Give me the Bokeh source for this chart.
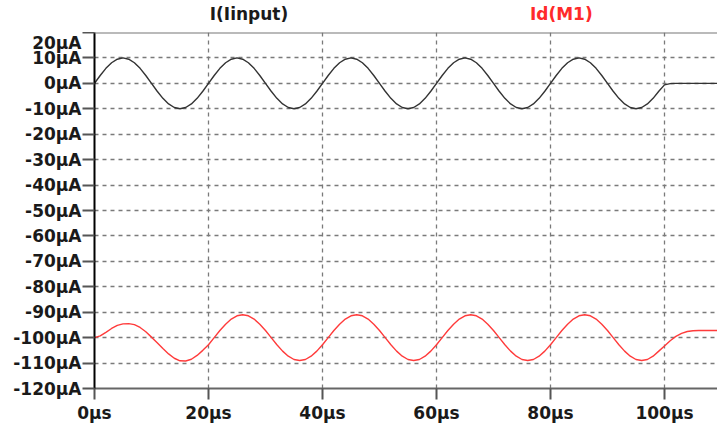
from bokeh.plotting import figure
from bokeh.models import Range1d, FixedTicker, CustomJSTickFormatter, Span
from bokeh.layouts import column
from bokeh.core.properties import value
from bokeh.embed import file_html
from bokeh.resources import INLINE

# time samples in µs
time_us = list(range(0, 111))

# I(Iinput) in µA
i_input = [
    0, 3.1, 5.9, 8.1, 9.5, 10, 9.5, 8.1, 5.9, 3.1, 0, -3.1, -5.9, -8.1, -9.5, -10, -9.5, -8.1, -5.9, -3.1,
    0, 3.1, 5.9, 8.1, 9.5, 10, 9.5, 8.1, 5.9, 3.1, 0, -3.1, -5.9, -8.1, -9.5, -10, -9.5, -8.1, -5.9, -3.1,
    0, 3.1, 5.9, 8.1, 9.5, 10, 9.5, 8.1, 5.9, 3.1, 0, -3.1, -5.9, -8.1, -9.5, -10, -9.5, -8.1, -5.9, -3.1,
    0, 3.1, 5.9, 8.1, 9.5, 10, 9.5, 8.1, 5.9, 3.1, 0, -3.1, -5.9, -8.1, -9.5, -10, -9.5, -8.1, -5.9, -3.1,
    0, 3.1, 5.9, 8.1, 9.5, 10, 9.5, 8.1, 5.9, 3.1, 0, -3.1, -5.9, -8.1, -9.5, -10, -9.5, -8.1, -5.9, -3.1,
    -0.6, -0.1, 0, 0, 0, 0, 0, 0, 0, 0, 0,
]

# Id(M1) in µA
id_m1 = [
    -100, -99.3, -97.9, -96.4, -95.2, -94.6, -94.5, -94.9, -96.0, -97.7,
    -99.8, -102.0, -104.3, -106.4, -108.1, -109.1, -109.2, -108.5, -107.0, -105.0,
    -102.8, -100, -97.2, -94.7, -92.7, -91.4, -91.0, -91.4, -92.7, -94.7,
    -97.2, -100, -102.8, -105.3, -107.3, -108.6, -109.0, -108.6, -107.3, -105.3,
    -102.8, -100, -97.2, -94.7, -92.7, -91.4, -91.0, -91.4, -92.7, -94.7,
    -97.2, -100, -102.8, -105.3, -107.3, -108.6, -109.0, -108.6, -107.3, -105.3,
    -102.8, -100, -97.2, -94.7, -92.7, -91.4, -91.0, -91.4, -92.7, -94.7,
    -97.2, -100, -102.8, -105.3, -107.3, -108.6, -109.0, -108.6, -107.3, -105.3,
    -102.8, -100, -97.2, -94.7, -92.7, -91.4, -91.0, -91.4, -92.7, -94.7,
    -97.2, -100, -102.8, -105.3, -107.3, -108.6, -109.0, -108.6, -107.3, -105.3,
    -103.3, -101.2, -99.5, -98.3, -97.6, -97.3, -97.2, -97.2, -97.2, -97.2, -97.2,
]

x_ticks = [0, 20, 40, 60, 80, 100]
y_ticks = [20, 10, 0, -10, -20, -30, -40, -50, -60, -70, -80, -90, -100, -110, -120]
series_names = ["I(Iinput)", "Id(M1)"]
series_colors = ["#1a1a1a", "#ff2a2a"]
name_pos_us = [27.1, 81.9]

FONT = "DejaVu Sans"
FS = "17px"
X_END = 109.3

# header with trace names
h = figure(width=717, height=32, output_backend="svg", toolbar_location=None,
           x_range=Range1d(0, X_END), y_range=Range1d(0, 32),
           min_border_left=94, min_border_top=0, min_border_bottom=0, min_border_right=0)
h.axis.visible = False
h.grid.visible = False
h.outline_line_color = None
h.text(x=name_pos_us, y=[18.5, 18.5], text=series_names, text_color=series_colors,
       text_align="center", text_baseline="middle",
       text_font=value(FONT), text_font_style="bold", text_font_size=FS)

p = figure(width=717, height=405, output_backend="svg", toolbar_location=None,
           x_range=Range1d(0, X_END), y_range=Range1d(-120, 20),
           min_border_left=94, min_border_top=0, min_border_bottom=49, min_border_right=0)
p.outline_line_color = None
p.background_fill_color = "white"
p.border_fill_color = "white"

# grids
p.xgrid.ticker = FixedTicker(ticks=[20, 40, 60, 80, 100])
p.ygrid.ticker = FixedTicker(ticks=[t for t in y_ticks if -120 < t < 20])
for g in (p.xgrid, p.ygrid):
    g.grid_line_color = "#7a7a7a"
    g.grid_line_dash = "4 4"
    g.grid_line_width = 1.3

# axes
p.xaxis.ticker = FixedTicker(ticks=x_ticks)
p.yaxis.ticker = FixedTicker(ticks=y_ticks)
p.xaxis.formatter = CustomJSTickFormatter(code="return tick.toFixed(0) + 'µs';")
p.yaxis.formatter = CustomJSTickFormatter(code="return tick.toFixed(0) + 'µA';")
for ax in (p.xaxis, p.yaxis):
    ax.major_label_text_font = FONT
    ax.major_label_text_font_style = "bold"
    ax.major_label_text_font_size = FS
    ax.major_label_text_color = "#1a1a1a"
    ax.minor_tick_line_color = None
    ax.major_tick_in = 0
    ax.major_tick_line_width = 2
    ax.major_tick_line_color = "#555555"

p.yaxis.axis_line_color = "black"
p.yaxis.axis_line_width = 2
p.yaxis.major_tick_out = 12
p.yaxis.major_label_standoff = 1

p.xaxis.axis_line_color = "#666666"
p.xaxis.axis_line_width = 2
p.xaxis.major_tick_out = 11
p.xaxis.major_label_standoff = 3

# top border
p.add_layout(Span(location=20, dimension="width", line_color="#777777", line_width=2))

# curves
p.line(time_us, i_input, line_color="#333333", line_width=1.4)
p.line(time_us, id_m1, line_color="#ff3b3b", line_width=1.4)

layout = column(h, p, spacing=0)
open("out.html", "w").write(file_html(layout, INLINE))
